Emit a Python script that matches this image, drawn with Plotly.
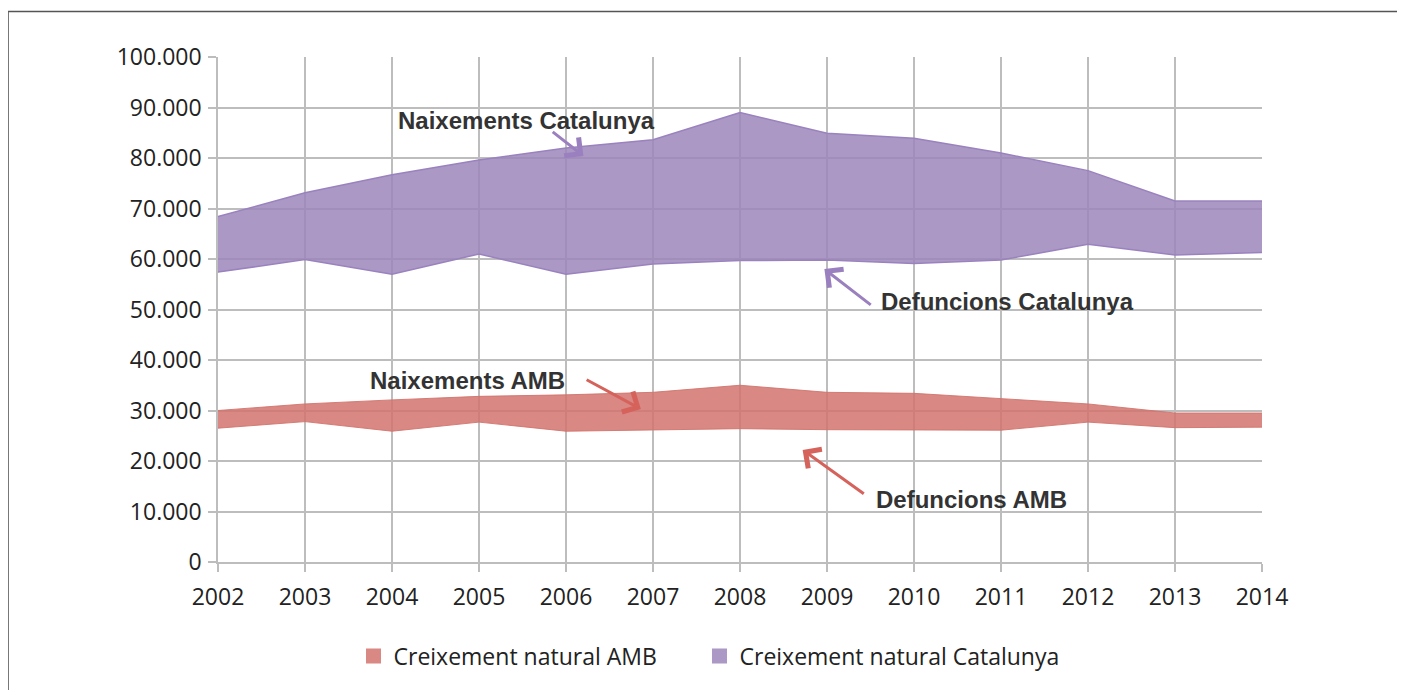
import plotly.graph_objects as go

years = [2002, 2003, 2004, 2005, 2006, 2007, 2008, 2009, 2010, 2011, 2012, 2013, 2014]
naix_cat = [68400, 73100, 76700, 79600, 82000, 83600, 89000, 84900, 83900, 81000, 77500, 71500, 71500]
def_cat = [57400, 59900, 57000, 61000, 57000, 59000, 59700, 59800, 59100, 59800, 62900, 60800, 61300]
naix_amb = [30000, 31300, 32100, 32800, 33100, 33600, 35000, 33600, 33400, 32300, 31300, 29500, 29500]
def_amb = [26500, 27800, 25900, 27700, 25900, 26200, 26400, 26200, 26100, 26100, 27700, 26600, 26700]
series_names = ["Creixement natural AMB", "Creixement natural Catalunya"]
y_ticks = [0, 10000, 20000, 30000, 40000, 50000, 60000, 70000, 80000, 90000, 100000]

purple_fill = "rgba(156,134,186,0.85)"
purple_line = "#9a82bf"
red_fill = "rgba(210,115,109,0.85)"
red_line = "rgba(210,115,109,0.9)"

fig = go.Figure()

# AMB band
fig.add_trace(go.Scatter(x=years, y=def_amb, mode="lines", line=dict(color=red_line, width=1),
                         showlegend=False, hoverinfo="skip"))
fig.add_trace(go.Scatter(x=years, y=naix_amb, mode="lines", line=dict(color=red_line, width=1),
                         fill="tonexty", fillcolor=red_fill, showlegend=False, hoverinfo="skip"))
# Catalunya band
fig.add_trace(go.Scatter(x=years, y=def_cat, mode="lines", line=dict(color=purple_line, width=1.5),
                         showlegend=False, hoverinfo="skip"))
fig.add_trace(go.Scatter(x=years, y=naix_cat, mode="lines", line=dict(color=purple_line, width=1.5),
                         fill="tonexty", fillcolor=purple_fill, showlegend=False, hoverinfo="skip"))

# legend entries (each in its own legend to reproduce spacing)
fig.add_trace(go.Scatter(x=[None], y=[None], mode="markers", name=series_names[0], legend="legend",
                         marker=dict(symbol="square", size=15, color="#d98883")))
fig.add_trace(go.Scatter(x=[None], y=[None], mode="markers", name=series_names[1], legend="legend2",
                         marker=dict(symbol="square", size=15, color="#ab98c4")))

grid = "#bdbdbd"
tick_font = dict(family="Open Sans", size=23, color="#222")
fig.update_xaxes(range=[2002, 2014], tickmode="array", tickvals=years, ticktext=[str(y) for y in years],
                 showgrid=True, gridcolor=grid, gridwidth=1.5, showline=True, linecolor=grid, linewidth=1.5,
                 ticks="outside", ticklen=8, tickcolor=grid, tickwidth=1.5, zeroline=False,
                 ticklabelstandoff=6, tickfont=tick_font)
fig.update_yaxes(range=[0, 100000], tickmode="array", tickvals=y_ticks, tickformat=",d",
                 showgrid=True, gridcolor=grid, gridwidth=1.5, showline=True, linecolor=grid, linewidth=1.5,
                 ticks="outside", ticklen=8, tickcolor=grid, tickwidth=1.5, zeroline=False,
                 ticklabelstandoff=2, tickfont=tick_font)

ann_font = dict(family="Liberation Sans", size=24, color="#333")
annotations = [
    dict(x=2005.55, y=87400, text="<b>Naixements Catalunya</b>", showarrow=False, font=ann_font),
    dict(x=2011.08, y=51500, text="<b>Defuncions Catalunya</b>", showarrow=False, font=ann_font),
    dict(x=2004.87, y=35900, text="<b>Naixements AMB</b>", showarrow=False, font=ann_font),
    dict(x=2010.66, y=12400, text="<b>Defuncions AMB</b>", showarrow=False, font=ann_font),
]
arrows = [
    (2006.20, 80400, 2005.83, 85400, "#9b80c0"),
    (2008.97, 58000, 2009.52, 50700, "#9b80c0"),
    (2006.86, 30300, 2006.22, 36250, "#d6625c"),
    (2008.72, 22200, 2009.44, 13300, "#d6625c"),
]
for hx, hy, tx, ty, col in arrows:
    annotations.append(dict(x=hx, y=hy, ax=tx, ay=ty, xref="x", yref="y", axref="x", ayref="y",
                            text="", showarrow=True, arrowhead=4, arrowsize=1.5, arrowwidth=3,
                            arrowcolor=col))

leg_font = dict(family="Open Sans", size=23, color="#222")
fig.update_layout(
    width=1397, height=682,
    margin=dict(l=210, r=143, t=49, b=122),
    paper_bgcolor="white", plot_bgcolor="white",
    separators=",.",
    annotations=annotations,
    legend=dict(orientation="h", x=0.1298, y=-0.186, xanchor="left", yanchor="middle",
                font=leg_font, itemwidth=30),
    legend2=dict(orientation="h", x=0.4612, y=-0.186, xanchor="left", yanchor="middle",
                 font=leg_font, itemwidth=30),
    shapes=[
        dict(type="line", xref="paper", yref="paper", x0=-0.2011, x1=1.2, y0=1.09, y1=1.09,
             line=dict(color="#555", width=1.5)),
        dict(type="line", xref="paper", yref="paper", x0=-0.2011, x1=-0.2011, y0=1.09, y1=-0.3,
             line=dict(color="#555", width=1.5)),
    ],
)

fig.write_html("out.html")
